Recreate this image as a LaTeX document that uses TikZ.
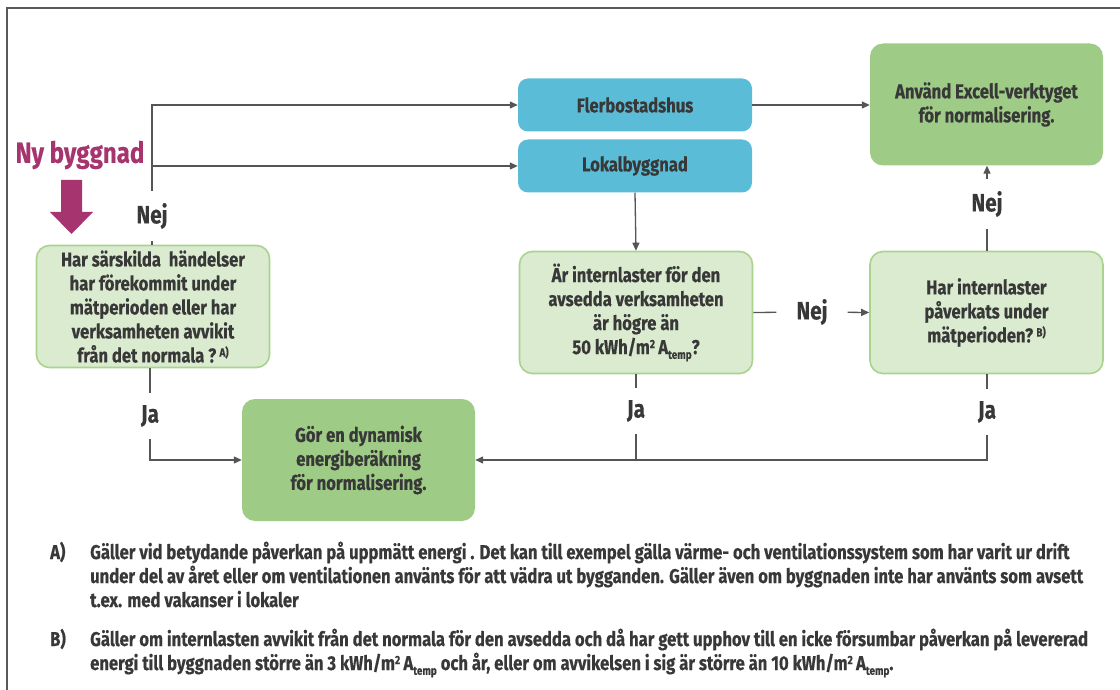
\documentclass[tikz,border=0pt]{standalone}
\usepackage{fontspec}
\setmainfont{Fira Sans}[FakeStretch=0.83, BoldFeatures={FakeBold=0.4}]
\usetikzlibrary{arrows.meta}
\definecolor{txt}{HTML}{383838}
\definecolor{ln}{HTML}{555555}
\definecolor{qfill}{HTML}{DAEBCF}
\definecolor{qdraw}{HTML}{A9D38E}
\definecolor{afill}{HTML}{9ECC87}
\definecolor{bfill}{HTML}{5BBCD8}
\definecolor{mag}{HTML}{A5346F}
\newcommand{\supx}[1]{\raisebox{0.55ex}{\fontsize{12}{12}\selectfont #1}}
\newcommand{\subx}[1]{\raisebox{-0.45ex}{\fontsize{12}{12}\selectfont #1}}
\tikzset{
  base/.style={rounded corners=13pt, align=center, text=txt, font=\bfseries\fontsize{20}{24}\selectfont, inner sep=0pt},
  qbox/.style={base, fill=qfill, draw=qdraw, line width=1.6pt, minimum width=233pt, minimum height=122pt},
  abox/.style={base, fill=afill, minimum width=233pt, minimum height=122pt},
  bbox/.style={base, fill=bfill, rounded corners=10pt, minimum width=234pt, minimum height=53pt},
  lab/.style={text=txt, font=\bfseries\fontsize{25}{28}\selectfont, inner xsep=2pt, inner ysep=12pt},
  con/.style={draw=ln, line width=1.3pt},
  arr/.style={con, -{Triangle[length=8pt,width=7pt]}},
  foot/.style={text=txt, font=\bfseries\fontsize{20}{24}\selectfont, anchor=base west, inner sep=0pt}
}
\begin{document}
\begin{tikzpicture}[x=1pt,y=-1pt]
\useasboundingbox (0,0) rectangle (1120,690);
\fill[white] (0,0) rectangle (1120,690);
\draw[gray!70!black, line width=1.3pt] (7,700) -- (7,8) -- (1130,8);

% nodes
\node[bbox] (fler) at (635,105) {Flerbostadshus};
\node[bbox] (lokal) at (635,166) {Lokalbyggnad};
\node[abox] (anv) at (986.5,104.5) {Använd Excell-verktyget\\för normalisering.};
\node[qbox] (qa) at (153,306.5) {Har särskilda~ händelser\\har förekommit under\\mätperioden eller har\\verksamheten avvikit\\från det normala ?\,\supx{A)}};
\node[qbox] (qb) at (636,312.5) {Är internlaster för den\\avsedda verksamheten\\är högre än\\50 kWh/m\supx{2}\,A\subx{temp}?};
\node[qbox] (qc) at (986.5,312.5) {Har internlaster\\påverkats under\\mätperioden?\,\supx{B)}};
\node[abox] (gor) at (358.5,460) {Gör en dynamisk\\energiberäkning\\för normalisering.};

\node[text=mag, font=\bfseries\fontsize{29}{30}\selectfont, inner sep=0pt] (ny) at (80,155) {Ny byggnad};
\fill[mag] (61,180) -- (82,180) -- (82,212) -- (93,212) -- (71.5,234) -- (50,212) -- (61,212) -- cycle;

% labels
\node[lab] (nejA) at (152,216) {Nej};
\node[lab] (jaA) at (150,416) {Ja};
\node[lab, inner xsep=20pt] (nejB) at (812,312) {Nej};
\node[lab] (jaB) at (636,411) {Ja};
\node[lab] (jaC) at (987,412) {Ja};
\node[lab] (nejC) at (987,204) {Nej};

% connectors
\draw[con] (qa.north -| nejA) -- (nejA);
\draw[arr] (nejA) |- (fler.west);
\draw[arr] (nejA) |- (lokal.west);
\draw[arr] (fler.east) -- (anv.west |- fler.east);
\draw[arr] (lokal.south) -- (qb.north);
\draw[con] (qb.east) -- (nejB);
\draw[arr] (nejB) -- (qc.west);
\draw[con] (qc.north -| nejC) -- (nejC);
\draw[arr] (nejC) -- (anv.south -| nejC);
\draw[con] (qa.south -| jaA) -- (jaA);
\draw[arr] (jaA) |- (gor.west);
\draw[con] (qb.south) -- (jaB);
\draw[con] (jaB) -- (jaB |- gor.east);
\draw[con] (qc.south -| jaC) -- (jaC);
\draw[arr] (jaC) |- (gor.east);

% footnotes
\node[foot] (fa) at (50,559) {A)};
\node[foot] (fa1) at (90,559) {Gäller vid betydande påverkan på uppmätt energi . Det kan till exempel gälla värme- och ventilationssystem som har varit ur drift};
\node[foot] (fa2) at (90,583) {under del av året eller om ventilationen använts för att vädra ut bygganden. Gäller även om byggnaden inte har använts som avsett};
\node[foot] (fa3) at (90,607) {t.ex. med vakanser i lokaler};
\node[foot] (fb) at (50,646) {B)};
\node[foot] (fb1) at (90,646) {Gäller om internlasten avvikit från det normala för den avsedda och då har gett upphov till en icke försumbar påverkan på levererad};
\node[foot] (fb2) at (90,670) {energi till byggnaden större än 3 kWh/m\supx{2}\,A\subx{temp} och år, eller om avvikelsen i sig är större än 10 kWh/m\supx{2}\,A\subx{temp}.};
\end{tikzpicture}
\end{document}
